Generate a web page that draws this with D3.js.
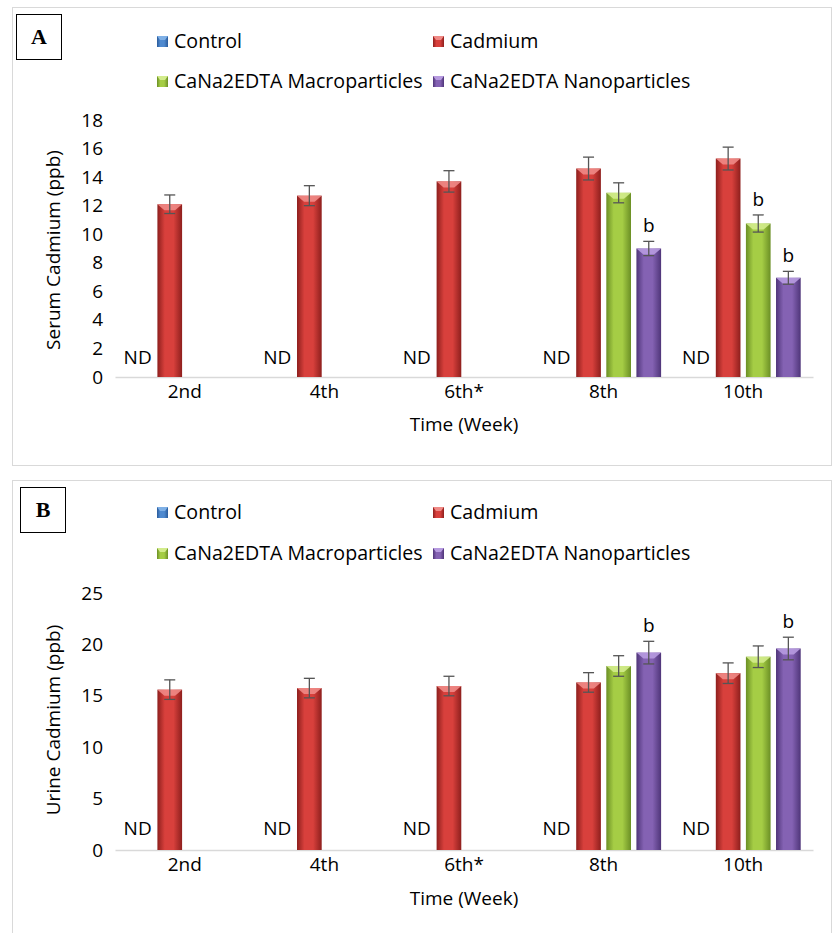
<!DOCTYPE html>
<html>
<head>
<meta charset="utf-8">
<script src="https://d3js.org/d3.v7.min.js"></script>
<style>
  body { margin: 0; background: #fff; }
  text { font-family: "Open Sans", sans-serif; fill: #000; }
</style>
</head>
<body>
<div id="chart"></div>
<script>
// ---- data ----
var weeks = ["2nd", "4th", "6th*", "8th", "10th"];
var seriesNames = ["Control", "Cadmium", "CaNa2EDTA Macroparticles", "CaNa2EDTA Nanoparticles"];

// Serum (panel A), ppb; null = not given, control = ND
var serumCadmium    = [12.1, 12.7, 13.7, 14.6, 15.3];
var serumCadmiumErr = [0.65, 0.7, 0.75, 0.8, 0.8];
var serumMacro      = [null, null, null, 12.9, 10.75];
var serumMacroErr   = [null, null, null, 0.7, 0.6];
var serumNano       = [null, null, null, 9.0, 6.95];
var serumNanoErr    = [null, null, null, 0.5, 0.45];
var serumMacroSig   = ["", "", "", "", "b"];
var serumNanoSig    = ["", "", "", "b", "b"];

// Urine (panel B), ppb
var urineCadmium    = [15.6, 15.75, 15.95, 16.3, 17.2];
var urineCadmiumErr = [0.95, 0.95, 0.95, 0.95, 1.0];
var urineMacro      = [null, null, null, 17.9, 18.8];
var urineMacroErr   = [null, null, null, 1.0, 1.05];
var urineNano       = [null, null, null, 19.2, 19.6];
var urineNanoErr    = [null, null, null, 1.1, 1.1];
var urineMacroSig   = ["", "", "", "", ""];
var urineNanoSig    = ["", "", "", "b", "b"];

var serumTicks = [0, 2, 4, 6, 8, 10, 12, 14, 16, 18];
var urineTicks = [0, 5, 10, 15, 20, 25];

// colours: [dark edge, light middle, bevel top]
var palette = {
  "Control": ["#2a5b9b", "#4f8ad0", "#7fb0e6"],
  "Cadmium": ["#8e1f1d", "#d8403c", "#f08a86"],
  "CaNa2EDTA Macroparticles": ["#6b8f25", "#a5cd45", "#d3ec8c"],
  "CaNa2EDTA Nanoparticles": ["#4f3579", "#8462b3", "#b79be0"]
};

var fs = "19px";
var W = 834, H = 933;
var svg = d3.select("#chart").append("svg").attr("width", W).attr("height", H);
var defs = svg.append("defs");

seriesNames.forEach(function(s, i) {
  var c = palette[s];
  var g = defs.append("linearGradient").attr("id", "grad" + i)
    .attr("x1", "0%").attr("x2", "100%").attr("y1", "0%").attr("y2", "0%");
  g.append("stop").attr("offset", "0%").attr("stop-color", c[0]);
  g.append("stop").attr("offset", "30%").attr("stop-color", c[1]);
  g.append("stop").attr("offset", "65%").attr("stop-color", c[1]);
  g.append("stop").attr("offset", "100%").attr("stop-color", c[0]);
});

function drawPanel(p) {
  var root = svg.append("g");

  // outer frame
  root.append("rect")
    .attr("x", p.frame[0] + 0.5).attr("y", p.frame[1] + 0.5)
    .attr("width", p.frame[2]).attr("height", p.frame[3])
    .attr("fill", "none").attr("stroke", "#d9d9d9");

  // letter box
  root.append("rect")
    .attr("x", p.box[0] + 0.5).attr("y", p.box[1] + 0.5)
    .attr("width", 45).attr("height", 45)
    .attr("fill", "#fff").attr("stroke", "#000");
  root.append("text")
    .attr("x", p.box[0] + 23).attr("y", p.box[1] + 30)
    .attr("text-anchor", "middle")
    .style("font-family", "'Liberation Serif', 'Times New Roman', serif")
    .style("font-weight", "bold").style("font-size", "22px")
    .text(p.letter);

  // legend
  var legPos = [[157, p.legY[0]], [433, p.legY[0]], [157, p.legY[1]], [433, p.legY[1]]];
  seriesNames.forEach(function(s, i) {
    var lg = root.append("g").attr("transform", "translate(" + legPos[i][0] + "," + legPos[i][1] + ")");
    lg.append("rect").attr("x", 0).attr("y", -5).attr("width", 11).attr("height", 11)
      .attr("fill", "url(#grad" + i + ")");
    lg.append("path").attr("d", "M0,-5 L11,-5 L8,-1 L3,-1 Z").attr("fill", palette[s][2]);
    lg.append("text").attr("x", 17).attr("y", 0).attr("dy", "0.35em")
      .style("font-size", "19.6px").text(s);
  });

  var x = d3.scaleBand().domain(weeks).range([115, 813]).paddingInner(0).paddingOuter(0);
  var xs = d3.scaleBand().domain(seriesNames).range([-57.5, 57.5]).paddingInner(0.18);
  var y = d3.scaleLinear().domain(p.domain).range([p.y0, p.y1]);

  // y axis (labels only)
  var yAxis = d3.axisLeft(y).tickValues(p.ticks).tickSize(0).tickPadding(0);
  var ya = root.append("g").attr("transform", "translate(103,0)").call(yAxis);
  ya.select(".domain").remove();
  ya.selectAll("text").style("font-size", fs).style("font-family", "'Open Sans', sans-serif");

  // x axis line + labels
  var xAxis = d3.axisBottom(x).tickSize(0).tickPadding(8);
  var xa = root.append("g").attr("transform", "translate(0," + p.y0 + ")").call(xAxis);
  xa.select(".domain").attr("stroke", "#d9d9d9").attr("stroke-width", 1.5);
  xa.selectAll("text").style("font-size", fs).style("font-family", "'Open Sans', sans-serif");

  // axis titles
  root.append("text")
    .attr("x", x.range()[0] + (x.range()[1] - x.range()[0]) / 2).attr("y", p.xTitleY)
    .attr("text-anchor", "middle").style("font-size", fs).text("Time (Week)");
  root.append("text")
    .attr("transform", "translate(" + 53 + "," + p.yTitleY + ") rotate(-90)")
    .attr("text-anchor", "middle").attr("dy", "0.35em")
    .style("font-size", fs).text(p.yTitle);

  var bw = xs.bandwidth();
  var groups = root.append("g").selectAll("g").data(weeks).join("g")
    .attr("transform", function(d) { return "translate(" + (x(d) + x.bandwidth() / 2) + ",0)"; });

  // ND labels for control
  groups.append("text")
    .attr("x", xs("Control") + bw / 2 - 2).attr("y", y(p.ndAt))
    .attr("text-anchor", "middle").attr("dy", "0.35em")
    .style("font-size", fs).text("ND");

  p.series.forEach(function(sr) {
    var si = seriesNames.indexOf(sr.name);
    var rows = weeks.map(function(w, i) {
      return { week: w, v: sr.values[i], e: sr.err[i], sig: sr.sig ? sr.sig[i] : "" };
    }).filter(function(d) { return d.v != null; });

    var bars = root.append("g").selectAll("g").data(rows).join("g")
      .attr("transform", function(d) { return "translate(" + (x(d.week) + x.bandwidth() / 2 + xs(sr.name)) + ",0)"; });

    bars.append("rect")
      .attr("x", 0).attr("width", bw)
      .attr("y", function(d) { return y(d.v); })
      .attr("height", function(d) { return y(0) - y(d.v); })
      .attr("fill", "url(#grad" + si + ")");
    // bevel on top
    bars.append("path")
      .attr("d", function(d) {
        var t = y(d.v);
        return "M0," + t + " L" + bw + "," + t + " L" + (bw - 7) + "," + (t + 6) + " L7," + (t + 6) + " Z";
      })
      .attr("fill", palette[sr.name][2]).attr("opacity", 0.9);

    // error bars
    var eb = bars.append("g").attr("stroke", "#555").attr("stroke-width", 1.3);
    eb.append("line")
      .attr("x1", bw / 2).attr("x2", bw / 2)
      .attr("y1", function(d) { return y(d.v + d.e); })
      .attr("y2", function(d) { return y(d.v - d.e); });
    eb.append("line")
      .attr("x1", bw / 2 - 5.5).attr("x2", bw / 2 + 5.5)
      .attr("y1", function(d) { return y(d.v + d.e); })
      .attr("y2", function(d) { return y(d.v + d.e); });
    eb.append("line")
      .attr("x1", bw / 2 - 5.5).attr("x2", bw / 2 + 5.5)
      .attr("y1", function(d) { return y(d.v - d.e); })
      .attr("y2", function(d) { return y(d.v - d.e); });

    bars.filter(function(d) { return d.sig; }).append("text")
      .attr("x", bw / 2).attr("y", function(d) { return y(d.v + d.e) - 9; })
      .attr("text-anchor", "middle")
      .style("font-size", fs).text(function(d) { return d.sig; });
  });
}

drawPanel({
  letter: "A", frame: [12, 7, 819, 458], box: [16, 14], legY: [41, 81],
  domain: [0, 18], y0: 377, y1: 120, ticks: serumTicks, ndAt: 1.4,
  xTitleY: 431, yTitleY: 250, yTitle: "Serum Cadmium (ppb)",
  series: [
    { name: "Cadmium", values: serumCadmium, err: serumCadmiumErr },
    { name: "CaNa2EDTA Macroparticles", values: serumMacro, err: serumMacroErr, sig: serumMacroSig },
    { name: "CaNa2EDTA Nanoparticles", values: serumNano, err: serumNanoErr, sig: serumNanoSig }
  ]
});

drawPanel({
  letter: "B", frame: [12, 480, 819, 460], box: [20, 487], legY: [512, 553],
  domain: [0, 25], y0: 850, y1: 593, ticks: urineTicks, ndAt: 2.1,
  xTitleY: 905, yTitleY: 720, yTitle: "Urine Cadmium (ppb)",
  series: [
    { name: "Cadmium", values: urineCadmium, err: urineCadmiumErr },
    { name: "CaNa2EDTA Macroparticles", values: urineMacro, err: urineMacroErr, sig: urineMacroSig },
    { name: "CaNa2EDTA Nanoparticles", values: urineNano, err: urineNanoErr, sig: urineNanoSig }
  ]
});
</script>
</body>
</html>
